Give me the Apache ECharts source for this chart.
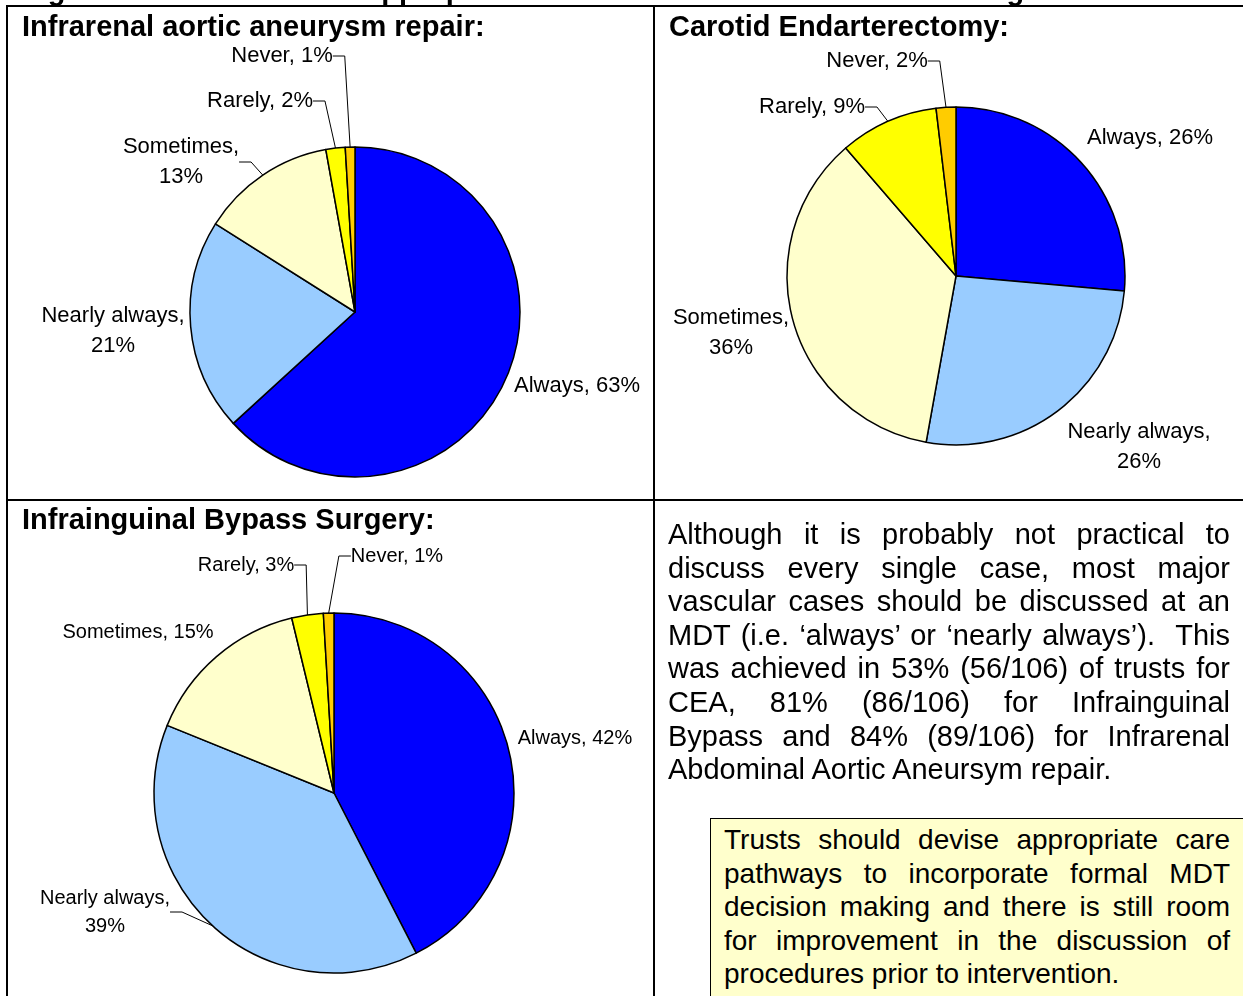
<!DOCTYPE html>
<html>
<head>
<meta charset="utf-8">
<script src="https://cdn.jsdelivr.net/npm/echarts@6/dist/echarts.min.js"></script>
<style>
html, body { margin: 0; padding: 0; background: #fff; }
#page { position: relative; width: 1243px; height: 996px; overflow: hidden; font-family: "Liberation Sans", Arial, sans-serif; color: #000; }
#chart { position: absolute; left: 0; top: 0; width: 1243px; height: 996px; }
.fig-title { position: absolute; left: 22px; top: -27px; font-weight: bold; font-size: 29px; line-height: 34.8px; white-space: nowrap; }
.note { position: absolute; left: 668px; top: 518px; width: 562px; font-size: 29px; line-height: 33.6px; }
.rec { position: absolute; left: 710px; top: 818px; width: 560px; height: 200px; box-sizing: border-box;
  padding: 4px 0 0 13px; background: #ffffcc; border-left: 1.5px solid #000; border-top: 1.5px solid #000;
  font-size: 28px; line-height: 33.6px; }
.rec .lines { width: 506px; }
.note div, .rec div div { text-align: justify; text-align-last: justify; white-space: nowrap; }
.note div.last, .rec div div.last { text-align-last: left; }
</style>
</head>
<body>
<div id="page">
  <div id="chart"></div>
  <div class="fig-title">Figure 11: Discussion of appropriateness of intervention at MDT meeting</div>
  <div class="note">
    <div>Although it is probably not practical to</div>
    <div>discuss every single case, most major</div>
    <div>vascular cases should be discussed at an</div>
    <div>MDT (i.e. ‘always’ or ‘nearly always’).&nbsp; This</div>
    <div>was achieved in 53% (56/106) of trusts for</div>
    <div>CEA, 81% (86/106) for Infrainguinal</div>
    <div>Bypass and 84% (89/106) for Infrarenal</div>
    <div class="last">Abdominal Aortic Aneursym repair.</div>
  </div>
  <div class="rec">
    <div class="lines">
      <div>Trusts should devise appropriate care</div>
      <div>pathways to incorporate formal MDT</div>
      <div>decision making and there is still room</div>
      <div>for improvement in the discussion of</div>
      <div class="last">procedures prior to intervention.</div>
    </div>
  </div>
</div>
<script>
// answers, in the order the slices run clockwise from 12 o'clock
const categories = ["Always", "Nearly always", "Sometimes", "Rarely", "Never"];
// trusts (out of 106) giving each answer
const aaaCounts = [67, 22, 14, 2, 1];
const ceaCounts = [28, 28, 38, 10, 2];
const bypassCounts = [45, 41, 16, 3, 1];
const panelTitles = [
  "Infrarenal aortic aneurysm repair:",
  "Carotid Endarterectomy:",
  "Infrainguinal Bypass Surgery:"
];

const sliceColors = ["#0000ff", "#99ccff", "#ffffcc", "#ffff00", "#ffcc00"];
const font = '"Liberation Sans", Arial, sans-serif';

// where each pie sits and how its labels are laid out (Excel style)
const pies = [
  {
    counts: aaaCounts, center: [355, 312], radius: 165, fontSize: 22, lineHeight: 30,
    labelAt: [[577, 386], [113, 331], [181, 162], [260, 101], [282, 56]],
    wrap: [false, true, true, false, false],
    leader: [false, false, true, true, true]
  },
  {
    counts: ceaCounts, center: [956, 276], radius: 169, fontSize: 22, lineHeight: 30,
    labelAt: [[1150, 138], [1139, 447], [731, 333], [812, 107], [877, 61]],
    wrap: [false, true, true, false, false],
    leader: [false, false, false, true, true]
  },
  {
    counts: bypassCounts, center: [334, 793], radius: 180, fontSize: 20, lineHeight: 28,
    labelAt: [[575, 738], [105, 912], [138, 632], [246, 565], [397, 556]],
    wrap: [false, true, false, false, false],
    leader: [false, true, false, true, true]
  }
];
const titleAt = [[22, 13], [669, 13], [22, 506]];

let myChart = echarts.init(document.getElementById("chart"));

let series = pies.map(p => ({
  type: "pie",
  center: p.center,
  radius: p.radius,
  startAngle: 90,
  clockwise: true,
  animation: false,
  emphasis: { disabled: true },
  itemStyle: { borderColor: "#000", borderWidth: 1.5 },
  data: categories.map((name, i) => ({
    name: name,
    value: p.counts[i],
    labelLine: { show: p.leader[i] }
  })),
  label: {
    show: true,
    position: "outside",
    color: "#000",
    fontFamily: font,
    fontSize: p.fontSize,
    lineHeight: p.lineHeight,
    align: "center",
    formatter: prm => prm.name + "," + (p.wrap[prm.dataIndex] ? "\n" : " ") + Math.round(prm.percent) + "%"
  },
  labelLine: {
    show: true,
    length: 8,
    length2: 12,
    lineStyle: { color: "#000", width: 1 }
  },
  labelLayout: prm => ({
    x: p.labelAt[prm.dataIndex][0],
    y: p.labelAt[prm.dataIndex][1],
    align: "center",
    verticalAlign: "middle"
  })
}));

let option = {
  color: sliceColors,
  title: panelTitles.map((t, i) => ({
    text: t,
    left: titleAt[i][0],
    top: titleAt[i][1],
    padding: 0,
    textStyle: { color: "#000", fontFamily: font, fontSize: 29, fontWeight: "bold", lineHeight: 30 }
  })),
  graphic: [
    { type: "line", shape: { x1: 6, y1: 6, x2: 1243, y2: 6 }, style: { stroke: "#000", lineWidth: 2 } },
    { type: "line", shape: { x1: 7, y1: 5, x2: 7, y2: 996 }, style: { stroke: "#000", lineWidth: 2 } },
    { type: "line", shape: { x1: 654, y1: 5, x2: 654, y2: 996 }, style: { stroke: "#000", lineWidth: 2 } },
    { type: "line", shape: { x1: 6, y1: 500, x2: 1243, y2: 500 }, style: { stroke: "#000", lineWidth: 2 } }
  ],
  series: series
};
myChart.setOption(option, true);
</script>
</body>
</html>
